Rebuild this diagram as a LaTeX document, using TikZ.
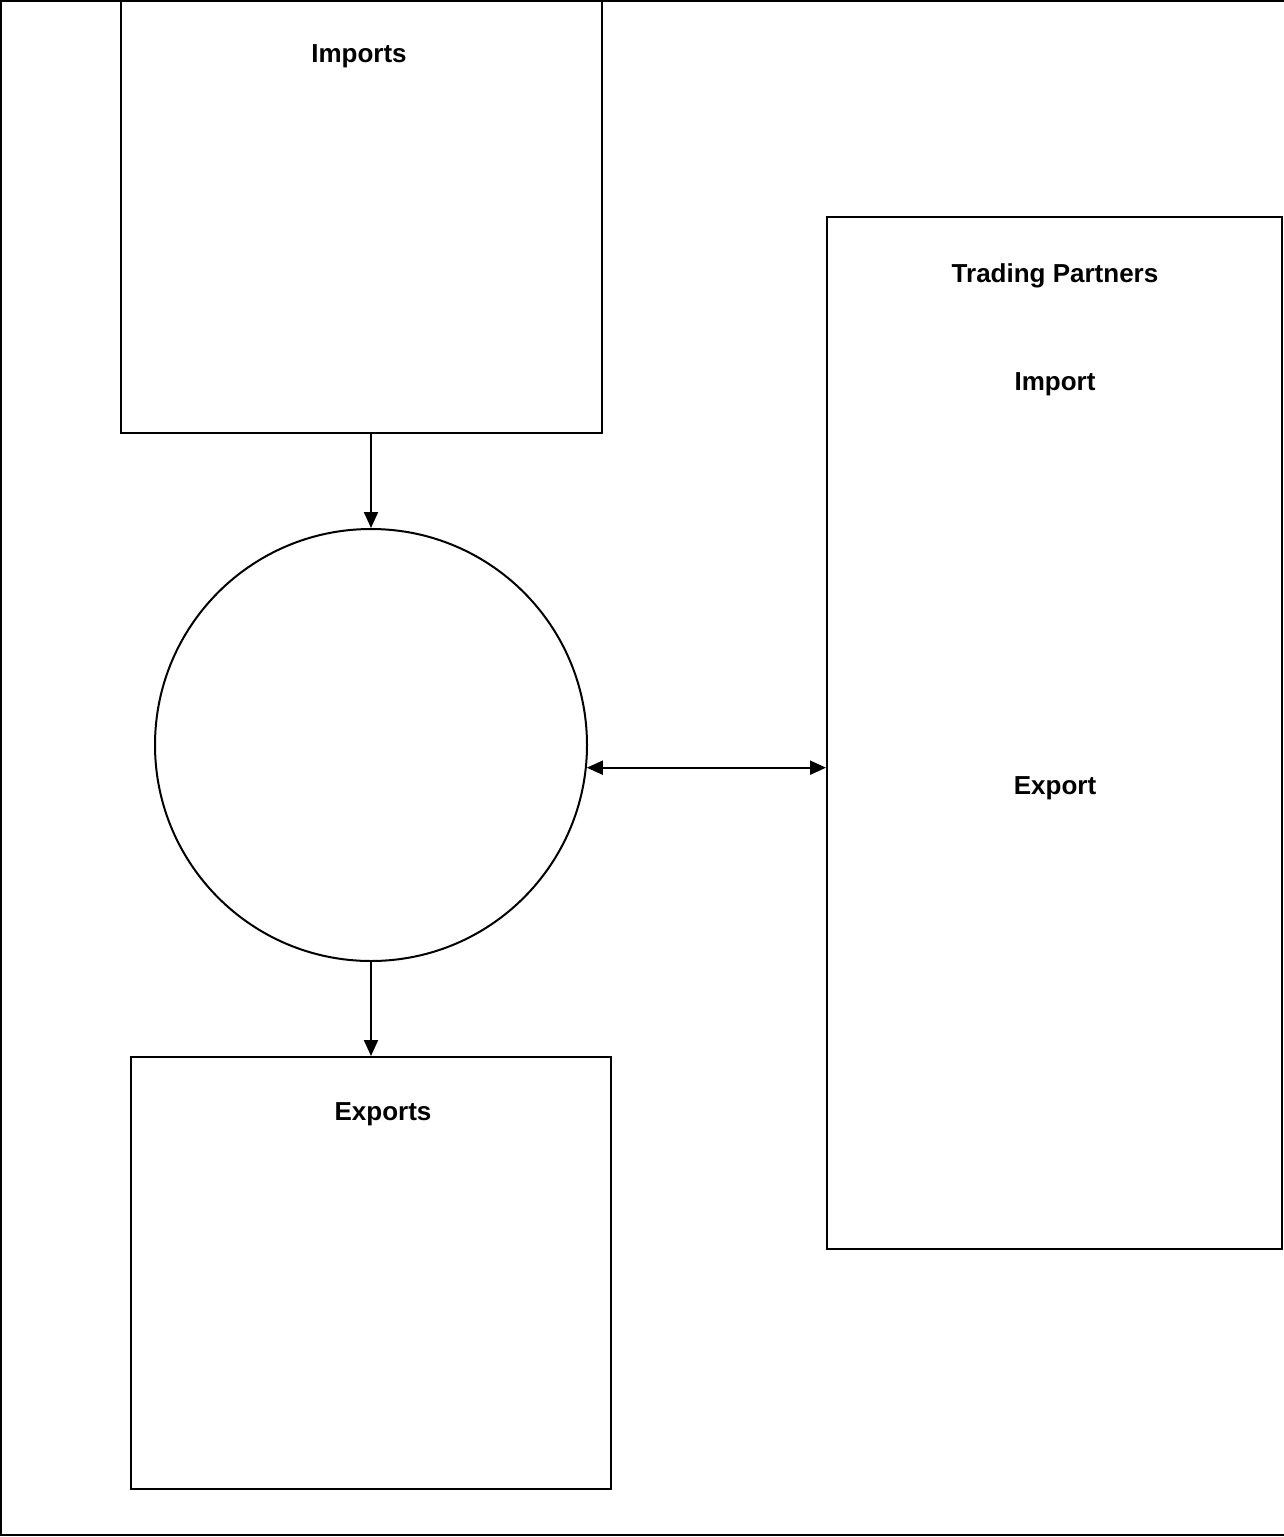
\documentclass[tikz,border=0pt]{standalone}
\usepackage{fontspec}
\setmainfont{Liberation Sans}
\usetikzlibrary{arrows.meta,positioning}

\begin{document}
\begin{tikzpicture}[x=0.5pt, y=-0.5pt, line width=1pt, box/.style = {rectangle, draw, line width=1pt}, title/.style = {anchor=base, inner sep=0pt, font=\fontsize{13}{15}\selectfont\bfseries}, line/.style = {draw, line width=1pt, -{Triangle[length=8pt,width=7pt]}}, both/.style = {draw, line width=1pt, {Triangle[length=8pt,width=7pt]}-{Triangle[length=8pt,width=7pt]}}]
			\useasboundingbox (0,0) rectangle (1284,1537);
			\draw (1284,1) -- (1,1) -- (1,1535) -- (1284,1535);
			
			\node[box, minimum width=240.5pt, minimum height=216pt] (imports) at (361.5,217) {};
			\node[circle, draw, minimum size=216pt, inner sep=0pt] (market) at (371,745) {};
			\node[box, minimum width=240pt, minimum height=216pt] (exports) at (371,1273) {};
			\node[box, minimum width=227.5pt, minimum height=516pt] (partners) at (1054.5,733) {};
			
			\node[title] (importslabel) at (359,62) {Imports};
			\node[title] (exportslabel) at (383,1120) {Exports};
			\node[title] (partnerslabel) at (1055,282) {Trading Partners};
			\node[title] (importlabel) at (1055,390) {Import};
			\node[title] (exportlabel) at (1055,794) {Export};
			
			\path[line] (market.north |- imports.south) -- (market.north);
			\path[line] (market.south) -- (exports.north);
			\path[both] (market.-6.4) -- (market.-6.4 -| partners.west);
\end{tikzpicture}
\end{document}
